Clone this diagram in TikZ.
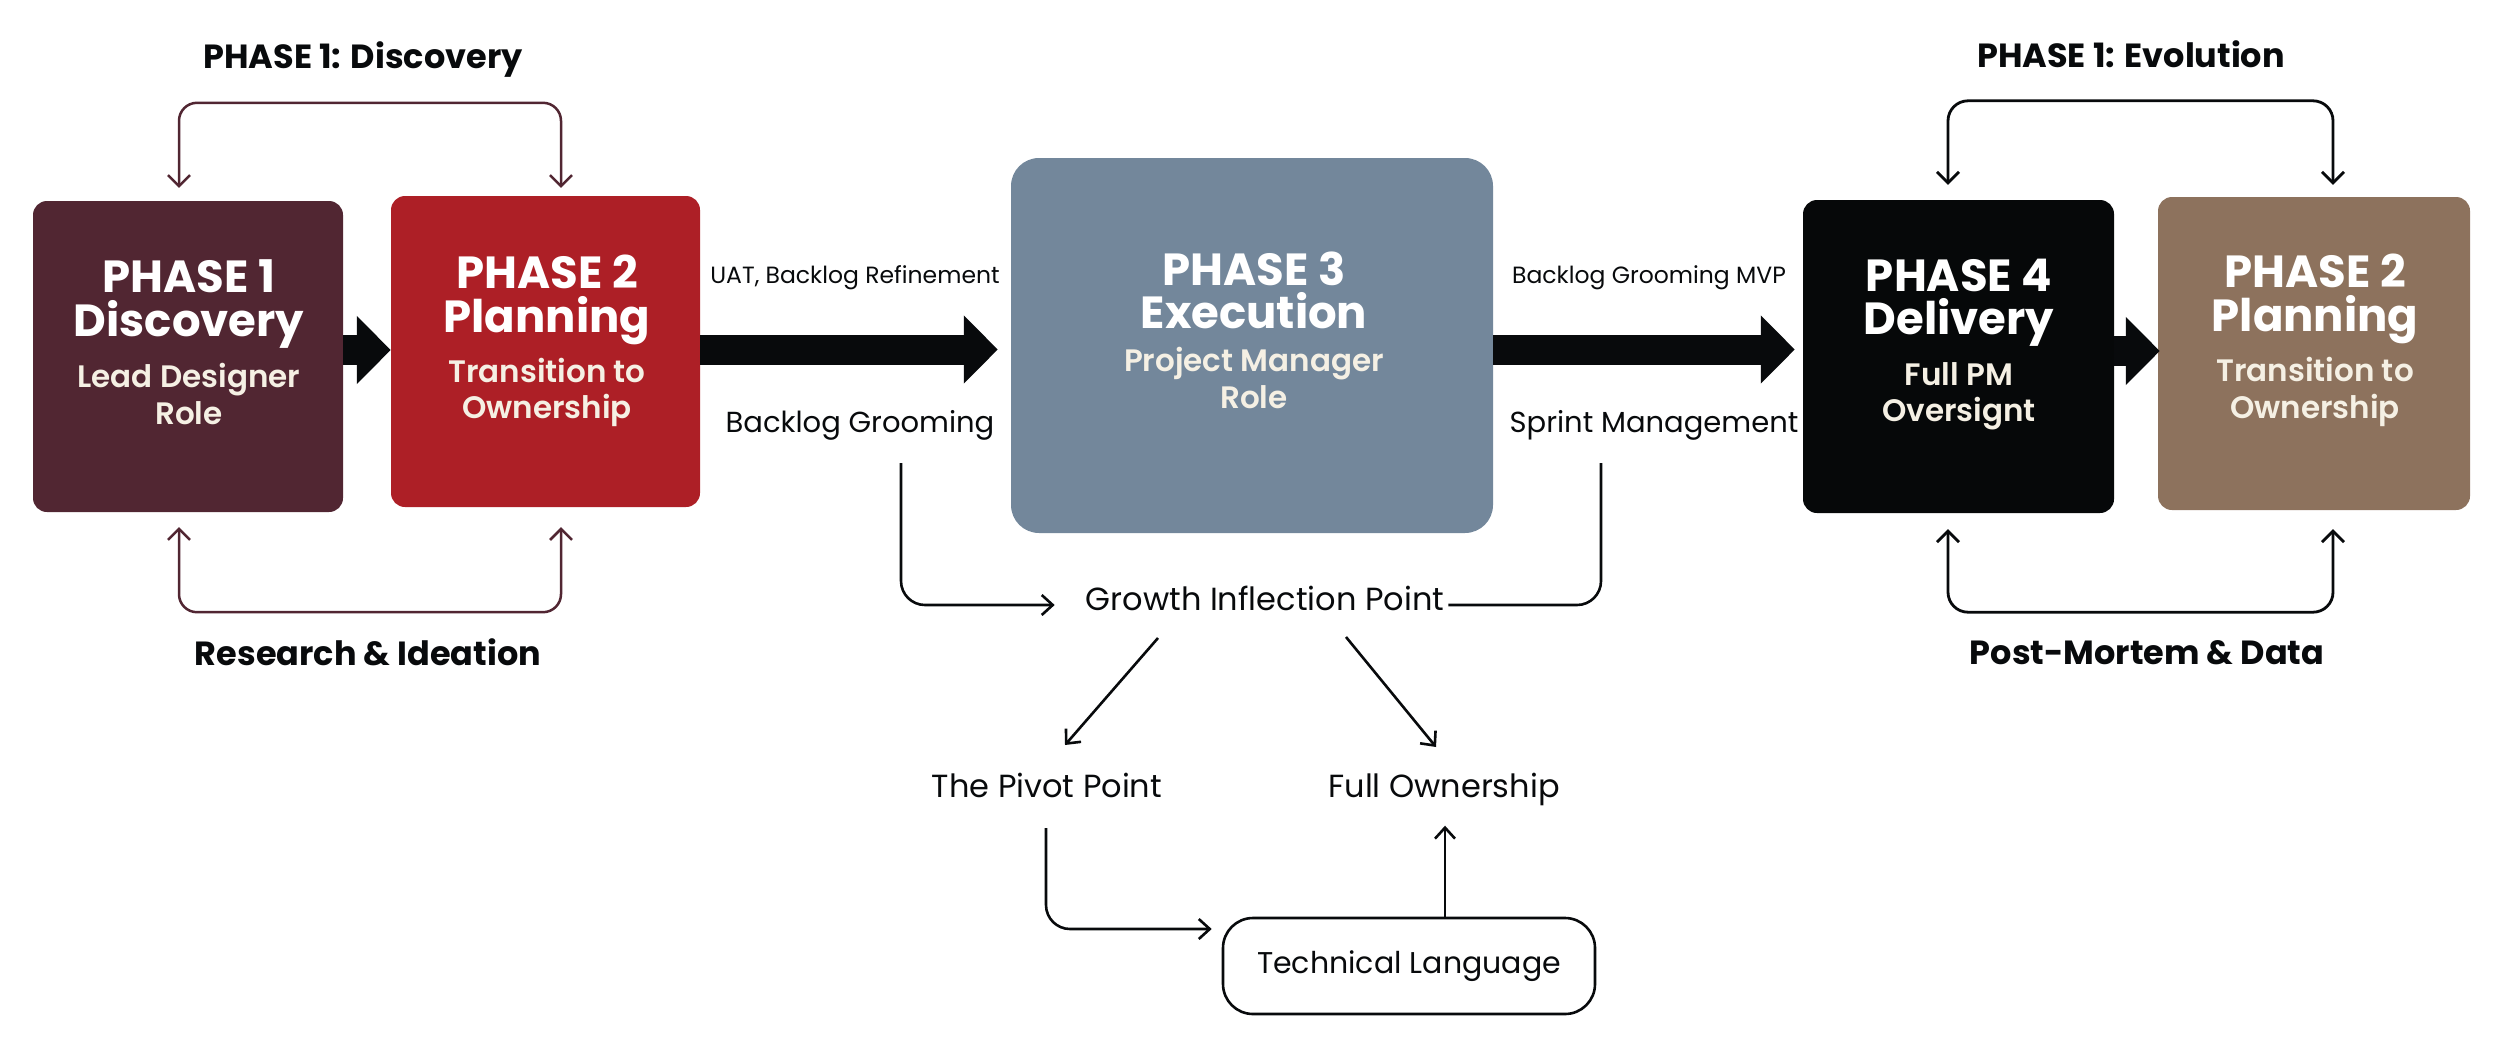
\documentclass[tikz,border=0pt]{standalone}
\usepackage{fontspec}
\setmainfont{Poppins}
\newfontfamily\semib{Poppins SemiBold}
\usetikzlibrary{arrows.meta}
\definecolor{cMaroon}{RGB}{81,38,50}
\definecolor{cRed}{RGB}{173,31,38}
\definecolor{cSlate}{RGB}{115,135,155}
\definecolor{cBlack}{RGB}{6,8,9}
\definecolor{cBrown}{RGB}{141,114,93}
\definecolor{cCream}{RGB}{245,240,228}
\definecolor{cInk}{RGB}{8,10,12}
\begin{document}
\begin{tikzpicture}[x=1pt,y=-1pt,
  phasebox/.style={draw=none, rounded corners=14pt, inner sep=0pt},
  ttl/.style={anchor=base, inner sep=0pt, text=white, font=\fontsize{45}{45}\selectfont\bfseries},
  sub/.style={anchor=base, inner sep=0pt, text=cCream, font=\fontsize{31}{31}\selectfont\semib},
  hdr/.style={anchor=base, inner sep=0pt, text=cInk, font=\fontsize{33.5}{33.5}\selectfont\bfseries},
  lbl/.style={anchor=base, inner sep=0pt, text=cInk, font=\fontsize{29}{29}\selectfont},
  biglbl/.style={anchor=base, inner sep=0pt, text=cInk, font=\fontsize{32}{32}\selectfont},
  smalllbl/.style={anchor=base, inner sep=0pt, text=cInk, font=\fontsize{23.5}{23.5}\selectfont},
  bigarrow/.style={draw=cInk, line width=30pt, -{Triangle[length=34pt,width=66pt]}},
  barbs/.style={{Straight Barb[length=11pt,width=22pt]}-{Straight Barb[length=11pt,width=22pt]}},
  loopL/.style={draw=cMaroon, line width=2.5pt, rounded corners=18pt, barbs},
  loopR/.style={draw=cInk, line width=2.8pt, rounded corners=20pt, barbs},
  conn/.style={draw=cInk, line width=2.6pt, rounded corners=24pt},
  tip/.style={-{Straight Barb[length=11pt,width=20pt]}}
]
\useasboundingbox (0,0) rectangle (2500,1047);

% phase boxes
\node[phasebox, fill=cMaroon, minimum width=310pt, minimum height=311pt] (b1) at (188,356.5) {};
\node[phasebox, fill=cRed, minimum width=309pt, minimum height=311pt] (b2) at (545.5,351.5) {};
\node[phasebox, fill=cSlate, rounded corners=28pt, minimum width=482pt, minimum height=375pt] (b3) at (1252,345.5) {};
\node[phasebox, fill=cBlack, minimum width=311pt, minimum height=313pt] (b4) at (1958.5,356.5) {};
\node[phasebox, fill=cBrown, minimum width=312pt, minimum height=313pt] (b5) at (2314,353.5) {};

% box texts
\node[ttl] (b1a) at (189,292) {PHASE 1};
\node[ttl] (b1b) at (189,336) {Discovery};
\node[sub] (b1c) at (189,387) {Lead Designer};
\node[sub] (b1d) at (189,424) {Role};

\node[ttl] (b2a) at (547,288) {PHASE 2};
\node[ttl] (b2b) at (547,332) {Planning};
\node[sub] (b2c) at (547,382) {Transition to};
\node[sub] (b2d) at (547,418) {Ownership};

\node[ttl] (b3a) at (1254,285) {PHASE 3};
\node[ttl] (b3b) at (1254,328) {Execution};
\node[sub] (b3c) at (1254,371) {Project Manager};
\node[sub] (b3d) at (1254,408) {Role};

\node[ttl] (b4a) at (1959,291) {PHASE 4};
\node[ttl] (b4b) at (1959,334) {Delivery};
\node[sub] (b4c) at (1959,385) {Full PM};
\node[sub] (b4d) at (1959,421) {Oversignt};

\node[ttl] (b5a) at (2315,287) {PHASE 2};
\node[ttl] (b5b) at (2315,331) {Planning};
\node[sub] (b5c) at (2315,381) {Transition to};
\node[sub] (b5d) at (2315,418) {Ownership};

% headers
\node[hdr] (h1) at (363,68) {PHASE 1: Discovery};
\node[hdr] (h2) at (368,665) {Research \& Ideation};
\node[hdr] (h3) at (2131,67) {PHASE 1: Evolution};
\node[hdr] (h4) at (2147,664) {Post-Mortem \& Data};

% middle labels
\node[smalllbl] (uat) at (855,283) {UAT, Backlog Refinement};
\node[lbl] (bg) at (860,432) {Backlog Grooming};
\node[smalllbl] (mvp) at (1649,283) {Backlog Grooming MVP};
\node[lbl] (sm) at (1654,432) {Sprint Management};
\node[biglbl] (gip) at (1265,610) {Growth Inflection Point};
\node[biglbl] (tp) at (1047,797) {The Pivot Point};
\node[biglbl] (fo) at (1444,797) {Full Ownership};
\node[draw=cInk, line width=2.6pt, rounded corners=30pt, minimum width=372pt, minimum height=96pt, inner sep=0pt, text=cInk, font=\fontsize{30}{30}\selectfont] (tl) at (1409,966) {Technical Language};

% big arrows
\draw[bigarrow] ([yshift=6.5pt]b1.east) -- ([yshift=1.5pt]b2.west);
\draw[bigarrow] ([yshift=2pt]b2.east) -- ([xshift=-13pt,yshift=-4pt]b3.west);
\draw[bigarrow] ([yshift=-4pt]b3.east) -- ([xshift=-8pt,yshift=7pt]b4.west);
\draw[bigarrow] ([yshift=5.5pt]b4.east) -- ([xshift=2pt,yshift=2.5pt]b5.west);

% loops
\draw[loopL] ([xshift=-9pt,yshift=13pt]b1.north) -- ++(0,-85) -| ([xshift=15.5pt,yshift=8pt]b2.north);
\draw[loopL] ([xshift=-9pt,yshift=-15pt]b1.south) -- ++(0,85) -| ([xshift=15.5pt,yshift=-20pt]b2.south);
\draw[loopR] ([xshift=-10.5pt,yshift=15pt]b4.north) -- ++(0,-84) -| ([xshift=19pt,yshift=12pt]b5.north);
\draw[loopR] ([xshift=-10.5pt,yshift=-16pt]b4.south) -- ++(0,83) -| ([xshift=19pt,yshift=-19pt]b5.south);

% growth connectors
\draw[conn,tip] ([xshift=41pt,yshift=-31pt]bg.base) |- ([xshift=-31pt,yshift=5pt]gip.base west);
\draw[conn] ([xshift=4pt,yshift=5pt]gip.base east) -| ([xshift=-53pt,yshift=-31pt]sm.base);
\draw[conn,tip] ([xshift=-107pt,yshift=-28pt]gip.base) -- ([xshift=18pt,yshift=52pt]tp.base);
\draw[conn,tip] ([xshift=81pt,yshift=-27pt]gip.base) -- ([xshift=-8pt,yshift=50pt]fo.base);
\draw[conn,tip] ([xshift=-1pt,yshift=-31pt]tp.base) |- ([xshift=-10pt,yshift=37pt]tl.west);
\draw[conn,tip] ([xshift=36pt]tl.north) -- ++(0,-91);
\end{tikzpicture}
\end{document}
